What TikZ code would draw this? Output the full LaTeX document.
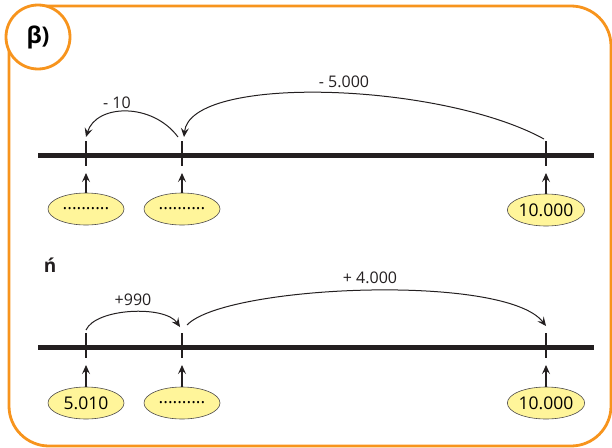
\documentclass[tikz,border=0pt]{standalone}
\usepackage{fontspec}
\setmainfont{Open Sans}
\usetikzlibrary{arrows.meta,shapes.geometric}
\definecolor{frameorange}{HTML}{F7941D}
\definecolor{ovalyellow}{HTML}{FFF59A}
\definecolor{ink}{HTML}{231F20}
\tikzset{
  numline/.style={line width=5pt, ink},
  tickmark/.style={line width=2.6pt, ink},
  oval/.style={ellipse, draw=ink!80, line width=0.6pt, fill=ovalyellow, minimum width=76pt, minimum height=32pt, inner sep=0pt, font=\fontsize{17.5}{19}\selectfont},
  uparrow/.style={line width=1.1pt, ink, -{Stealth[length=9pt,width=8pt,inset=3.5pt]}},
  jump/.style={line width=1pt, ink, -{Stealth[length=9pt,width=8pt,inset=3.5pt]}},
  jumplabel/.style={font=\fontsize{16}{18}\selectfont, text=ink},
}
\begin{document}
\begin{tikzpicture}[x=1pt,y=-1pt]
\useasboundingbox (0,0) rectangle (612,447);
\begin{scope}
\clip (0,0) rectangle (612,447);
\draw[frameorange, line width=2.8pt, rounded corners=40pt] (9,6) rectangle (611,446);
\end{scope}
\node[circle, draw=frameorange, line width=2.8pt, fill=white, minimum size=64pt, inner sep=0pt, font=\fontsize{23}{25}\selectfont\bfseries] (beta) at (38,37) {β)};

% upper number line
\coordinate (La) at (38,155);
\coordinate (Lb) at (594,155);
\draw[numline] (La) -- (Lb);
\coordinate (A1t) at (86,141); \coordinate (A1b) at (86,166);
\coordinate (A2t) at (182,141); \coordinate (A2b) at (182,166);
\coordinate (A3t) at (546,141); \coordinate (A3b) at (546,166);
\draw[tickmark] (A1t) -- (A1b);
\draw[tickmark] (A2t) -- (A2b);
\draw[tickmark] (A3t) -- (A3b);
\node[oval] (o1) at (86,209) {..........};
\node[oval] (o2) at (182,209) {..........};
\node[oval] (o3) at (546,210) {10.000};
\coordinate (p1) at (86,173);
\coordinate (p2) at (182,173);
\coordinate (p3) at (546,173);
\draw[uparrow] (o1.north) -- (p1);
\draw[uparrow] (o2.north) -- (p2);
\draw[uparrow] (o3.north) -- (p3);
\coordinate (s1) at (178,137);
\coordinate (e1) at (86,137);
\draw[jump] (s1) .. controls (152,102) and (96,104) .. (e1);
\coordinate (s2) at (544,139);
\coordinate (e2) at (184,137);
\draw[jump] (s2) .. controls (440,82) and (190,74) .. (e2);
\node[jumplabel] (l1) at (117,103) {- 10};
\node[jumplabel] (l2) at (344,82) {- 5.000};

% second part label
\node[font=\fontsize{19}{21}\selectfont\bfseries, text=ink] (nacute) at (50,265) {ń};

% lower number line
\coordinate (Ma) at (38,347);
\coordinate (Mb) at (594,347);
\draw[numline] (Ma) -- (Mb);
\coordinate (B1t) at (86,333); \coordinate (B1b) at (86,358);
\coordinate (B2t) at (182,333); \coordinate (B2b) at (182,358);
\coordinate (B3t) at (546,333); \coordinate (B3b) at (546,358);
\draw[tickmark] (B1t) -- (B1b);
\draw[tickmark] (B2t) -- (B2b);
\draw[tickmark] (B3t) -- (B3b);
\node[oval] (q1) at (86,403) {5.010};
\node[oval] (q2) at (182,403) {..........};
\node[oval] (q3) at (546,403) {10.000};
\coordinate (r1) at (86,365);
\coordinate (r2) at (182,365);
\coordinate (r3) at (546,365);
\draw[uparrow] (q1.north) -- (r1);
\draw[uparrow] (q2.north) -- (r2);
\draw[uparrow] (q3.north) -- (r3);
\coordinate (s3) at (86,330);
\coordinate (e3) at (180,327);
\draw[jump] (s3) .. controls (96,308) and (165,305) .. (e3);
\coordinate (s4) at (187,325);
\coordinate (e4) at (546,326);
\draw[jump] (s4) .. controls (225,285) and (505,273) .. (e4);
\node[jumplabel] (l3) at (133,300) {+990};
\node[jumplabel] (l4) at (370,278) {+ 4.000};
\end{tikzpicture}
\end{document}
